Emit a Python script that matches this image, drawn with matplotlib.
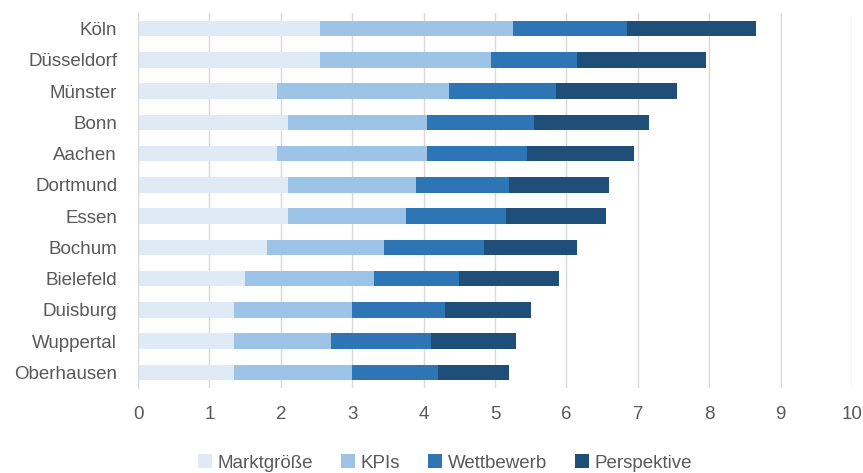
import matplotlib
matplotlib.use("Agg")
import matplotlib.pyplot as plt
import numpy as np

cities = ["Köln", "Düsseldorf", "Münster", "Bonn", "Aachen", "Dortmund", "Essen",
          "Bochum", "Bielefeld", "Duisburg", "Wuppertal", "Oberhausen"]
marktgroesse = [2.55, 2.55, 1.95, 2.1, 1.95, 2.1, 2.1, 1.8, 1.5, 1.35, 1.35, 1.35]
kpis = [2.7, 2.4, 2.4, 1.95, 2.1, 1.8, 1.65, 1.65, 1.8, 1.65, 1.35, 1.65]
wettbewerb = [1.6, 1.2, 1.5, 1.5, 1.4, 1.3, 1.4, 1.4, 1.2, 1.3, 1.4, 1.2]
perspektive = [1.8, 1.8, 1.7, 1.6, 1.5, 1.4, 1.4, 1.3, 1.4, 1.2, 1.2, 1.0]
series_names = ["Marktgröße", "KPIs", "Wettbewerb", "Perspektive"]
colors = ["#DEEBF7", "#9DC3E6", "#2E75B6", "#1F4E79"]
xticks = list(range(0, 11))

plt.rcParams['font.family'] = ['Liberation Sans', 'DejaVu Sans']

fig = plt.figure(figsize=(8.63, 4.73), dpi=100)
ax = fig.add_axes([138/863, 1-388/473, (852-138)/863, (388-13)/473])

y = np.arange(len(cities))
left = np.zeros(len(cities))
for name, vals, c in zip(series_names, [marktgroesse, kpis, wettbewerb, perspektive], colors):
    ax.barh(y, vals, left=left, height=0.5, color=c, label=name, zorder=3)
    left += np.array(vals)

ax.set_ylim(len(cities) - 0.5, -0.5)
ax.set_xlim(0, 10)
ax.set_xticks(xticks)
ax.set_yticks(y)
ax.set_yticklabels(cities)
ax.grid(axis='x', color='#D9D9D9', linewidth=1, zorder=0)
for s in ['top', 'right', 'bottom']:
    ax.spines[s].set_visible(False)
ax.spines['left'].set_color('#D9D9D9')
ax.spines['left'].set_zorder(4)
ax.tick_params(axis='both', length=0, labelsize=13.5, colors='#595959')
ax.tick_params(axis='x', pad=13)
ax.tick_params(axis='y', pad=15)

leg = fig.legend(loc='center', bbox_to_anchor=(445/863, 1-463/473), ncol=4, frameon=False,
                 fontsize=13.5, handlelength=0.75, handleheight=0.75, handletextpad=0.3,
                 columnspacing=1.5)
for t in leg.get_texts():
    t.set_color('#595959')

fig.savefig("out.png", dpi=100)
